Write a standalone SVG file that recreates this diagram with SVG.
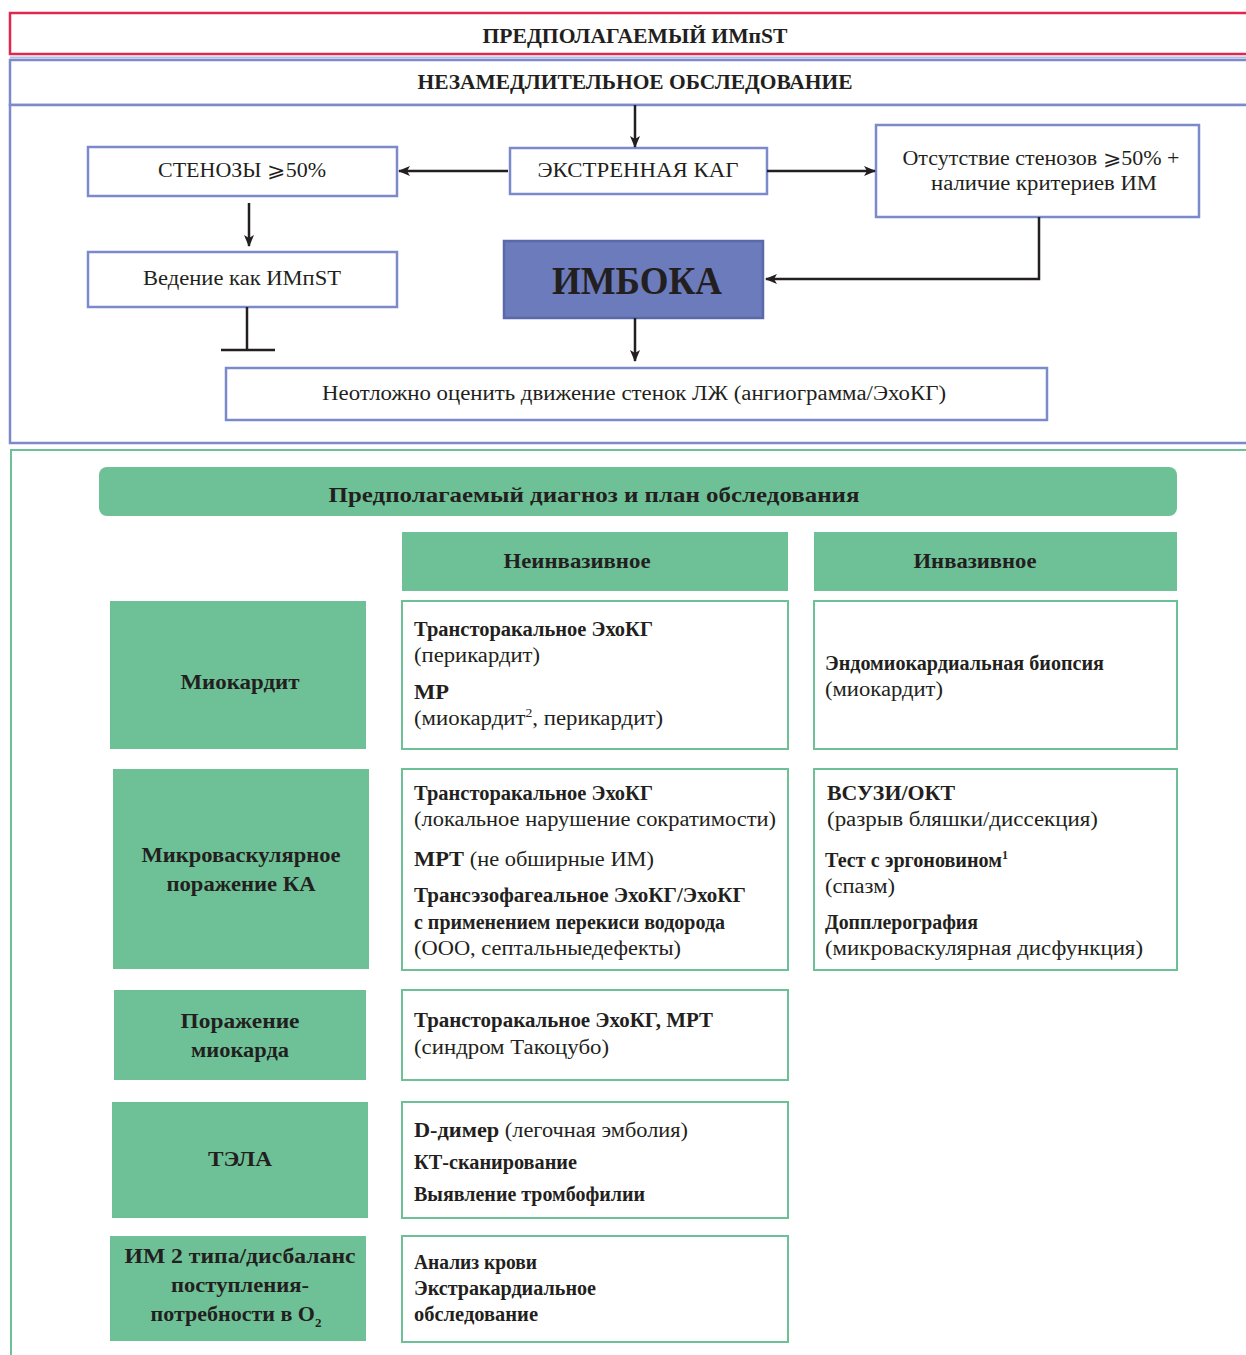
<svg xmlns="http://www.w3.org/2000/svg" width="1246" height="1355" viewBox="0 0 1246 1355">
<style>
.bg{fill:#ffffff}
.bbox{fill:#ffffff;stroke:#7b8acb;stroke-width:2.5}
.gbox{fill:#ffffff;stroke:#6ec197;stroke-width:2}
.gfill{fill:#6ec197}
.t{font-family:"Liberation Serif","Times New Roman",serif;fill:#231f20}
.r{font-size:20px}
.b{font-weight:bold}
.c{text-anchor:middle}
.h{font-size:21px;font-weight:bold}
.gl{font-size:22px;font-weight:bold}
.conn{stroke:#231f20;stroke-width:2.5;fill:none}
</style>
<defs>
<marker id="arr" viewBox="0 0 12 10" refX="11" refY="5" markerWidth="12" markerHeight="10" markerUnits="userSpaceOnUse" orient="auto">
<path d="M0,0 L12,5 L0,10 L3,5 Z" fill="#231f20"/>
</marker>
</defs>
<rect class="bg" x="0" y="0" width="1246" height="1355"/>

<g id="header-imst">
<rect x="10" y="13" width="1250" height="41" fill="#ffffff" stroke="#e0284f" stroke-width="2.5"/>
<text class="t h c" x="635" y="43" textLength="305" lengthAdjust="spacingAndGlyphs">ПРЕДПОЛАГАЕМЫЙ ИМпST</text>
</g>

<g id="header-exam">
<rect x="10" y="60" width="1250" height="45" fill="#ffffff" stroke="#7b8acb" stroke-width="2.5"/>
<line x1="10" y1="57.5" x2="1246" y2="57.5" stroke="#b5bde3" stroke-width="2"/>
<text class="t h c" x="635" y="89" textLength="435" lengthAdjust="spacingAndGlyphs">НЕЗАМЕДЛИТЕЛЬНОЕ ОБСЛЕДОВАНИЕ</text>
</g>

<g id="flow-frame">
<rect x="10" y="105" width="1250" height="338" fill="#ffffff" stroke="#7b8acb" stroke-width="2.5"/>
</g>

<g id="node-kag">
<rect class="bbox" x="510" y="148" width="257" height="46"/>
<text class="t r c" x="638" y="177" textLength="201" lengthAdjust="spacingAndGlyphs">ЭКСТРЕННАЯ КАГ</text>
</g>

<g id="node-stenoses">
<rect class="bbox" x="88" y="147" width="309" height="49"/>
<text class="t r c" x="242" y="177" textLength="168" lengthAdjust="spacingAndGlyphs">СТЕНОЗЫ ⩾50%</text>
</g>

<g id="node-absence">
<rect class="bbox" x="876" y="125" width="323" height="92"/>
<text class="t r c" x="1041" y="165" textLength="277" lengthAdjust="spacingAndGlyphs">Отсутствие стенозов ⩾50% +</text>
<text class="t r c" x="1044" y="190" textLength="226" lengthAdjust="spacingAndGlyphs">наличие критериев ИМ</text>
</g>

<g id="node-manage">
<rect class="bbox" x="88" y="252" width="309" height="55"/>
<text class="t r c" x="242" y="285" textLength="198" lengthAdjust="spacingAndGlyphs">Ведение как ИМпST</text>
</g>

<g id="node-imboka">
<rect x="504" y="241" width="259" height="77" fill="#6b7bbb" stroke="#5a69a9" stroke-width="2.5"/>
<text class="t b c" x="637" y="294" font-size="40" textLength="170" lengthAdjust="spacingAndGlyphs">ИМБОКА</text>
</g>

<g id="node-assess">
<rect class="bbox" x="226" y="368" width="821" height="52"/>
<text class="t r c" x="634" y="400" textLength="624" lengthAdjust="spacingAndGlyphs">Неотложно оценить движение стенок ЛЖ (ангиограмма/ЭхоКГ)</text>
</g>

<g id="connectors">
<line class="conn" x1="635" y1="105" x2="635" y2="147" marker-end="url(#arr)"/>
<line class="conn" x1="508" y1="171" x2="399" y2="171" marker-end="url(#arr)"/>
<line class="conn" x1="767" y1="171" x2="875" y2="171" marker-end="url(#arr)"/>
<line class="conn" x1="249" y1="203" x2="249" y2="246" marker-end="url(#arr)"/>
<polyline class="conn" points="1039,217 1039,279 766,279" marker-end="url(#arr)"/>
<line class="conn" x1="635" y1="318" x2="635" y2="361" marker-end="url(#arr)"/>
<line class="conn" x1="247" y1="307" x2="247" y2="350"/>
<line class="conn" x1="221" y1="350" x2="275" y2="350"/>
</g>

<g id="diagnosis-frame">
<line x1="10" y1="450" x2="1246" y2="450" stroke="#6ec197" stroke-width="2"/>
<line x1="11" y1="450" x2="11" y2="1355" stroke="#6ec197" stroke-width="2"/>
</g>

<g id="header-plan">
<rect class="gfill" x="99" y="467" width="1078" height="49" rx="8"/>
<text class="t gl c" x="594" y="502" textLength="531" lengthAdjust="spacingAndGlyphs">Предполагаемый диагноз и план обследования</text>
</g>

<g id="col-noninvasive">
<rect class="gfill" x="402" y="532" width="386" height="59"/>
<text class="t gl c" x="577" y="568" textLength="147" lengthAdjust="spacingAndGlyphs">Неинвазивное</text>
</g>
<g id="col-invasive">
<rect class="gfill" x="814" y="532" width="363" height="59"/>
<text class="t gl c" x="975" y="568" textLength="123" lengthAdjust="spacingAndGlyphs">Инвазивное</text>
</g>

<!-- Row 1 -->
<g id="dx-myocarditis">
<rect class="gfill" x="110" y="601" width="256" height="148"/>
<text class="t gl c" x="240" y="689" textLength="119" lengthAdjust="spacingAndGlyphs">Миокардит</text>
</g>
<g id="ni-myocarditis">
<rect class="gbox" x="402" y="601" width="386" height="148"/>
<text class="t r b" x="414" y="636" textLength="239" lengthAdjust="spacingAndGlyphs">Трансторакальное ЭхоКГ</text>
<text class="t r" x="414" y="662" textLength="126" lengthAdjust="spacingAndGlyphs">(перикардит)</text>
<text class="t r b" x="414" y="699" textLength="35" lengthAdjust="spacingAndGlyphs">МР</text>
<text class="t r" x="414" y="725" textLength="249" lengthAdjust="spacingAndGlyphs">(миокардит<tspan font-size="12" dy="-8">2</tspan><tspan dy="8">, перикардит)</tspan></text>
</g>
<g id="inv-myocarditis">
<rect class="gbox" x="814" y="601" width="363" height="148"/>
<text class="t r b" x="825" y="670" textLength="279" lengthAdjust="spacingAndGlyphs">Эндомиокардиальная биопсия</text>
<text class="t r" x="825" y="696" textLength="118" lengthAdjust="spacingAndGlyphs">(миокардит)</text>
</g>

<!-- Row 2 -->
<g id="dx-microvascular">
<rect class="gfill" x="113" y="769" width="256" height="200"/>
<text class="t gl c" x="241" y="862" textLength="199" lengthAdjust="spacingAndGlyphs">Микроваскулярное</text>
<text class="t gl c" x="241" y="891" textLength="149" lengthAdjust="spacingAndGlyphs">поражение КА</text>
</g>
<g id="ni-microvascular">
<rect class="gbox" x="402" y="769" width="386" height="201"/>
<text class="t r b" x="414" y="800" textLength="239" lengthAdjust="spacingAndGlyphs">Трансторакальное ЭхоКГ</text>
<text class="t r" x="414" y="826" textLength="362" lengthAdjust="spacingAndGlyphs">(локальное нарушение сократимости)</text>
<text class="t r" x="414" y="866" textLength="240" lengthAdjust="spacingAndGlyphs"><tspan font-weight="bold">МРТ</tspan> (не обширные ИМ)</text>
<text class="t r b" x="414" y="902" textLength="332" lengthAdjust="spacingAndGlyphs">Трансэзофагеальное ЭхоКГ/ЭхоКГ</text>
<text class="t r b" x="414" y="929" textLength="311" lengthAdjust="spacingAndGlyphs">с применением перекиси водорода</text>
<text class="t r" x="414" y="955" textLength="267" lengthAdjust="spacingAndGlyphs">(ООО, септальныедефекты)</text>
</g>
<g id="inv-microvascular">
<rect class="gbox" x="814" y="769" width="363" height="201"/>
<text class="t r b" x="827" y="800" textLength="128" lengthAdjust="spacingAndGlyphs">ВСУЗИ/ОКТ</text>
<text class="t r" x="827" y="826" textLength="271" lengthAdjust="spacingAndGlyphs">(разрыв бляшки/диссекция)</text>
<text class="t r b" x="825" y="867" textLength="183" lengthAdjust="spacingAndGlyphs">Тест с эргоновином<tspan font-size="12" dy="-8">1</tspan></text>
<text class="t r" x="825" y="893" textLength="70" lengthAdjust="spacingAndGlyphs">(спазм)</text>
<text class="t r b" x="825" y="929" textLength="153" lengthAdjust="spacingAndGlyphs">Допплерография</text>
<text class="t r" x="825" y="955" textLength="318" lengthAdjust="spacingAndGlyphs">(микроваскулярная дисфункция)</text>
</g>

<!-- Row 3 -->
<g id="dx-myocardial">
<rect class="gfill" x="114" y="990" width="252" height="90"/>
<text class="t gl c" x="240" y="1028" textLength="119" lengthAdjust="spacingAndGlyphs">Поражение</text>
<text class="t gl c" x="240" y="1057" textLength="98" lengthAdjust="spacingAndGlyphs">миокарда</text>
</g>
<g id="ni-myocardial">
<rect class="gbox" x="402" y="990" width="386" height="90"/>
<text class="t r b" x="414" y="1027" textLength="299" lengthAdjust="spacingAndGlyphs">Трансторакальное ЭхоКГ, МРТ</text>
<text class="t r" x="414" y="1054" textLength="195" lengthAdjust="spacingAndGlyphs">(синдром Такоцубо)</text>
</g>

<!-- Row 4 -->
<g id="dx-pe">
<rect class="gfill" x="112" y="1102" width="256" height="116"/>
<text class="t gl c" x="240" y="1166" textLength="64" lengthAdjust="spacingAndGlyphs">ТЭЛА</text>
</g>
<g id="ni-pe">
<rect class="gbox" x="402" y="1102" width="386" height="116"/>
<text class="t r" x="414" y="1137" textLength="274" lengthAdjust="spacingAndGlyphs"><tspan font-weight="bold">D-димер</tspan> (легочная эмболия)</text>
<text class="t r b" x="414" y="1169" textLength="163" lengthAdjust="spacingAndGlyphs">КТ-сканирование</text>
<text class="t r b" x="414" y="1201" textLength="231" lengthAdjust="spacingAndGlyphs">Выявление тромбофилии</text>
</g>

<!-- Row 5 -->
<g id="dx-type2">
<rect class="gfill" x="110" y="1236" width="256" height="105"/>
<text class="t gl c" x="240" y="1263" textLength="231" lengthAdjust="spacingAndGlyphs">ИМ 2 типа/дисбаланс</text>
<text class="t gl c" x="240" y="1292" textLength="138" lengthAdjust="spacingAndGlyphs">поступления-</text>
<text class="t gl c" x="236" y="1321">потребности в O<tspan font-size="13" dy="6">2</tspan></text>
</g>
<g id="ni-type2">
<rect class="gbox" x="402" y="1236" width="386" height="106"/>
<text class="t r b" x="414" y="1269" textLength="123" lengthAdjust="spacingAndGlyphs">Анализ крови</text>
<text class="t r b" x="414" y="1295" textLength="182" lengthAdjust="spacingAndGlyphs">Экстракардиальное</text>
<text class="t r b" x="414" y="1321" textLength="124" lengthAdjust="spacingAndGlyphs">обследование</text>
</g>
</svg>
